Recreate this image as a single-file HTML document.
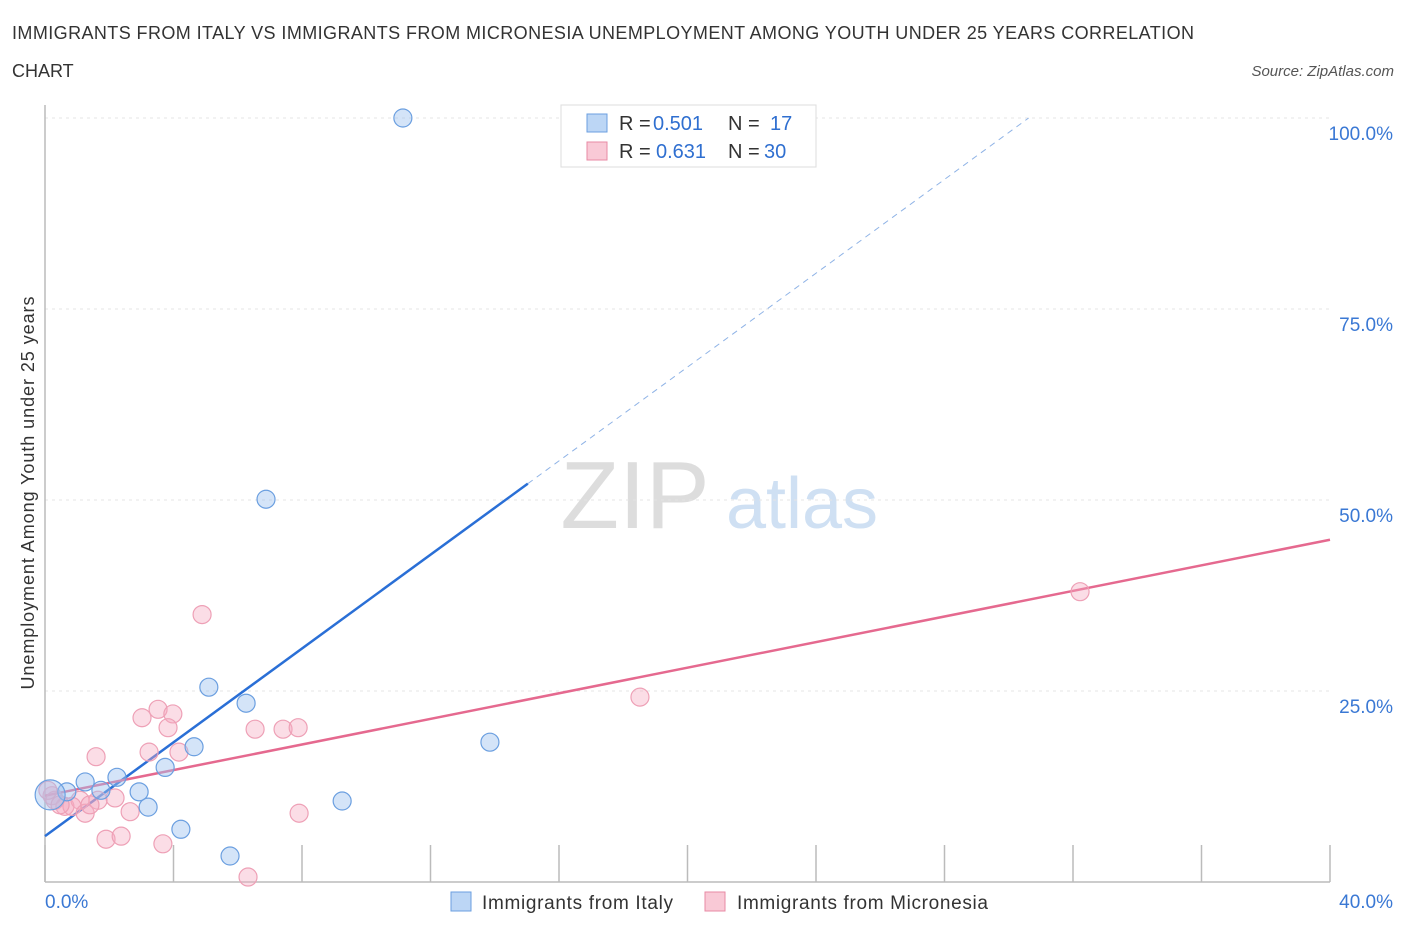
<!DOCTYPE html>
<html><head><meta charset="utf-8"><style>
body{margin:0;background:#fff;font-family:"Liberation Sans",sans-serif;}
svg text{font-family:"Liberation Sans",sans-serif;}
</style></head><body>
<svg id="c" width="1406" height="930">
<text x="12" y="39" font-size="18" fill="#333" textLength="1182">IMMIGRANTS FROM ITALY VS IMMIGRANTS FROM MICRONESIA UNEMPLOYMENT AMONG YOUTH UNDER 25 YEARS CORRELATION</text>
<text x="12" y="77" font-size="18" fill="#333">CHART</text>
<text x="1394" y="76" font-size="15" fill="#555" font-style="italic" text-anchor="end">Source: ZipAtlas.com</text>
<text x="635" y="528" font-size="96" fill="#ddd" font-family="Liberation Serif" text-anchor="middle">ZIP</text>
<text x="802" y="528" font-size="72" fill="#cfe0f3" text-anchor="middle">atlas</text>
<g id="grid"></g><g id="axes"></g><g id="marks"></g>
<text transform="translate(34,493) rotate(-90)" font-size="18" fill="#333" text-anchor="middle" textLength="393">Unemployment Among Youth under 25 years</text>
<g>
<rect x="561" y="105" width="255" height="62" fill="#fff" stroke="#ddd"/>
<rect x="587" y="114" width="20" height="18" fill="#bcd6f5" stroke="#6b9fe0"/>
<text x="619" y="130" font-size="20" fill="#333">R =</text>
<text x="653" y="130" font-size="20" fill="#2f6fd0">0.501</text>
<text x="728" y="130" font-size="20" fill="#333">N =</text>
<text x="770" y="130" font-size="20" fill="#2f6fd0">17</text>
<rect x="587" y="142" width="20" height="18" fill="#f9c9d6" stroke="#e88aa4"/>
<text x="619" y="158" font-size="20" fill="#333">R =</text>
<text x="656" y="158" font-size="20" fill="#2f6fd0">0.631</text>
<text x="728" y="158" font-size="20" fill="#333">N =</text>
<text x="764" y="158" font-size="20" fill="#2f6fd0">30</text>
</g>
<g>
<rect x="451" y="892" width="20" height="19" fill="#bcd6f5" stroke="#6b9fe0"/>
<text x="482" y="909" font-size="19" fill="#333" textLength="191">Immigrants from Italy</text>
<rect x="705" y="892" width="20" height="19" fill="#f9c9d6" stroke="#e88aa4"/>
<text x="737" y="909" font-size="19" fill="#333" textLength="251">Immigrants from Micronesia</text>
</g>
</svg>
<script>
const xTicks=[0,4,8,12,16,20,24,28,32,36,40];
const yTicks=[25,50,75,100];
const yTickLabels=["25.0%","50.0%","75.0%","100.0%"];
const italyX=[11.14,6.88,5.10,6.26,4.64,3.74,2.24,2.93,1.25,0.68,1.74,3.21,9.25,13.85,4.23,5.76,0.16];
const italyY=[100.0,50.1,25.5,23.4,17.7,15.0,13.7,11.8,13.1,11.8,12.0,9.8,10.6,18.3,6.9,3.4,11.4];
const microX=[32.22,18.52,4.89,3.52,3.98,3.02,3.83,6.54,7.41,7.88,3.24,4.17,1.59,2.18,1.65,0.62,0.22,1.09,0.84,1.25,2.65,7.91,1.90,2.37,3.67,6.32,0.31,0.09,1.40,0.47];
const microY=[38.0,24.2,35.0,22.6,22.0,21.5,20.2,20.0,20.0,20.2,17.0,17.0,16.4,11.0,10.7,9.9,11.3,10.7,9.9,9.0,9.2,9.0,5.6,6.0,5.0,0.65,10.7,12.0,10.1,10.1];
const italyTrend=[6.0,3.07];
const microTrend=[11.3,0.8375];
const X=v=>45+v/40*1285, Y=v=>882-v/100*764;
const NS='http://www.w3.org/2000/svg';
function mk(p,t,a){const e=document.createElementNS(NS,t);for(const k in a)e.setAttribute(k,a[k]);document.getElementById(p).appendChild(e);return e;}
yTicks.forEach((t,i)=>{
 const l=mk('grid','line',{x1:45,x2:1330,y1:Y(t),y2:Y(t),stroke:'#e4e4e4','stroke-dasharray':'3,4'});
 
 
 const tx=mk('grid','text',{x:1393,y:Y(t)+22,'font-size':19,fill:'#3a78d4','text-anchor':'end'});
 tx.textContent=yTickLabels[i];
 
 
});
const ax=mk('axes','line',{x1:45,x2:1330,y1:882,y2:882,stroke:'#bbb','stroke-width':1.5});


const ay=mk('axes','line',{x1:45,x2:45,y1:105,y2:882,stroke:'#bbb','stroke-width':1.5});


xTicks.forEach(t=>{
 const l=mk('axes','line',{x1:X(t),x2:X(t),y1:845,y2:882,stroke:'#bbb','stroke-width':1.5});
 
 
});
[[0,'0.0%','start',45],[40,'40.0%','end',1393]].forEach(a=>{
 const tx=mk('axes','text',{x:a[3],y:908,'font-size':19,fill:'#3a78d4','text-anchor':a[2]});
 tx.textContent=a[1];
 
 
});
const xe=15.03, xd=(100-italyTrend[0])/italyTrend[1];
const t1=mk('marks','line',{x1:X(0),y1:Y(italyTrend[0]),x2:X(xe),y2:Y(italyTrend[0]+italyTrend[1]*xe),stroke:'#2a6fd6','stroke-width':2.5});


const t2=mk('marks','line',{x1:X(xe),y1:Y(italyTrend[0]+italyTrend[1]*xe),x2:X(xd),y2:Y(100),stroke:'#8fb3e6','stroke-width':1,'stroke-dasharray':'6,5'});


const t3=mk('marks','line',{x1:X(0),y1:Y(microTrend[0]),x2:X(40),y2:Y(microTrend[0]+microTrend[1]*40),stroke:'#e5698f','stroke-width':2.5});


microX.forEach((v,i)=>{
 const c=mk('marks','circle',{cx:X(v),cy:Y(microY[i]),r:9,fill:'rgba(246,170,192,0.4)',stroke:'#eea0b6','stroke-width':1.2});
 
 
});
italyX.forEach((v,i)=>{
 const c=mk('marks','circle',{cx:X(v),cy:Y(italyY[i]),r:i==16?15:9,fill:'rgba(160,196,240,0.45)',stroke:'#6b9fe0','stroke-width':1.2});
 
 
});
</script>
</body></html>
